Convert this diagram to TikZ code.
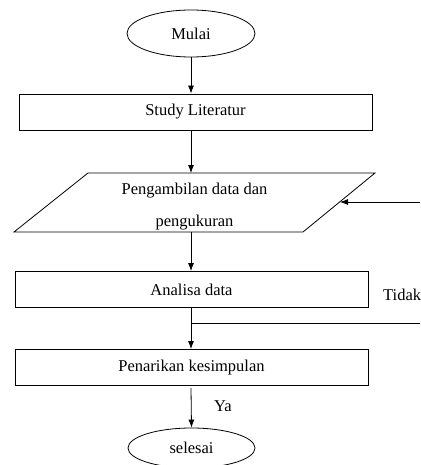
\documentclass[tikz,border=0pt]{standalone}
\usepackage{fontspec}
\setmainfont{Liberation Serif}
\usetikzlibrary{shapes.geometric,arrows.meta}
\begin{document}
\begin{tikzpicture}[x=1pt,y=-1pt,
  every node/.style={font=\fontsize{16.5}{32}\selectfont},
  term/.style={draw,ellipse,line width=0.8pt,inner sep=0pt},
  proc/.style={draw,rectangle,line width=0.8pt,inner sep=0pt,minimum width=353pt,minimum height=36pt},
  flow/.style={line width=0.8pt,-{Latex[length=8pt,width=6pt]}},
  plain/.style={line width=0.8pt}]
\clip (0,0) rectangle (420,465);
\fill[white] (0,0) rectangle (420,465);
\node[term,minimum width=128pt,minimum height=47pt] (mulai) at (191,33.5) {Mulai};
\node[proc] (study) at (195.5,112) {Study Literatur};
% parallelogram
\coordinate (ptl) at (88,173);
\coordinate (ptr) at (375,173);
\coordinate (pbr) at (303,232);
\coordinate (pbl) at (14,232);
\draw[plain] (ptl) -- (ptr) -- (pbr) -- (pbl) -- cycle;
\node[align=center] (ambil) at (194.5,207) {Pengambilan data dan\\pengukuran};
\coordinate (pright) at (340,202);
\node[proc] (analisa) at (191.5,289.5) {Analisa data};
\node[proc] (tarik) at (191.5,367.5) {Penarikan kesimpulan};
\node[term,minimum width=127pt,minimum height=40pt] (selesai) at (191.5,448) {selesai};
% connectors
\draw[flow] (mulai.south) -- (mulai.south |- study.north);
\draw[flow] (mulai.south |- study.south) -- (mulai.south |- ptl);
\draw[flow] (mulai.south |- pbl) -- (mulai.south |- analisa.north);
\draw[flow] (mulai.south |- analisa.south) -- (mulai.south |- tarik.north);
\coordinate (join) at (191.5,323);
\coordinate (far) at (440,323);
\draw[plain] (join) -- (far);
\draw[flow] (far) -- (far |- pright) -- (pright);
\draw[flow] (mulai.south |- tarik.south) ++(0,2) -- (selesai.north);
\node[anchor=west,inner sep=0pt] (tidak) at (383,295) {Tidak};
\node[inner sep=0pt] (ya) at (223,406) {Ya};
\end{tikzpicture}
\end{document}
